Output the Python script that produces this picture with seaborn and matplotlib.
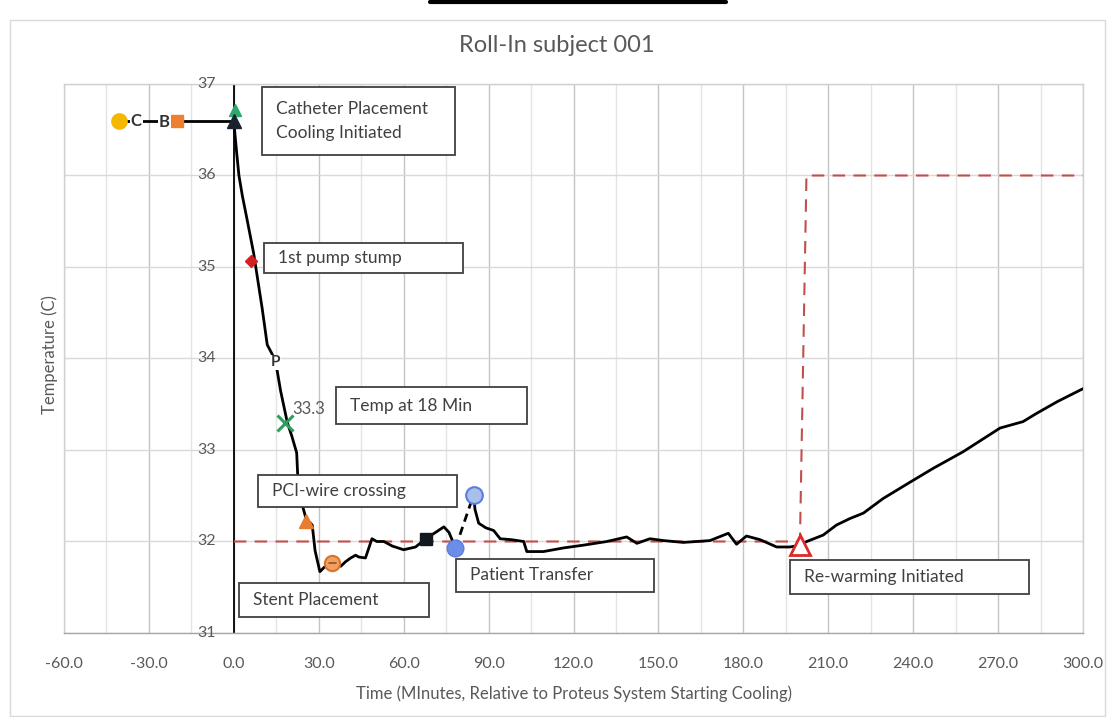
import matplotlib
matplotlib.use("Agg")
import matplotlib.pyplot as plt
import seaborn as sns
from matplotlib.patches import Rectangle
from matplotlib.lines import Line2D

# ---------------- data ----------------
title = "Roll-In subject 001"
x_label = "Time (MInutes, Relative to Proteus System Starting Cooling)"
y_label = "Temperature (C)"
x_ticks = [-60, -30, 0, 30, 60, 90, 120, 150, 180, 210, 240, 270, 300]
y_ticks = [31, 32, 33, 34, 35, 36, 37]

pre_time = [-40.5, -20.0, 0.0]
pre_temp = [36.6, 36.6, 36.6]

cool_time = [0.0, 0.4, 1.0, 1.8, 3.0, 4.8, 7.0, 8.5, 10.0, 11.8, 13.5, 14.8, 16.5, 18.9,
             20.5, 22.2, 22.6, 24.0, 25.5, 27.7, 28.7, 30.4, 32.0, 34.8, 37.8, 39.5,
             41.3, 43.0, 44.2, 46.5, 48.8, 50.5, 53.0, 56.0, 60.0, 64.2, 67.8, 71.3,
             74.2, 76.0, 78.3]
cool_temp = [36.60, 36.45, 36.25, 36.00, 35.78, 35.50, 35.15, 34.85, 34.55, 34.15, 34.05,
             33.96, 33.65, 33.30, 33.15, 32.97, 32.70, 32.42, 32.25, 32.18, 31.90,
             31.67, 31.72, 31.76, 31.73, 31.78, 31.82, 31.85, 31.83, 31.82, 32.03,
             32.00, 32.00, 31.95, 31.91, 31.94, 32.03, 32.10, 32.16, 32.10, 31.93]

transfer_time = [78.3, 84.7]
transfer_temp = [31.93, 32.51]

post_time = [84.7, 85.2, 86.5, 89.0, 91.8, 94.1, 98.0, 102.4, 103.5, 109.4, 116.5,
             123.5, 131.8, 138.8, 142.4, 147.0, 151.8, 158.8, 168.2, 174.7, 177.6,
             181.1, 185.9, 191.8, 196.5, 200.1, 202.4, 208.2, 212.9, 217.6, 222.4,
             229.4, 239.0, 247.1, 257.6, 270.7, 278.8, 283.6, 291.0, 300.0]
post_temp = [32.51, 32.35, 32.20, 32.15, 32.12, 32.03, 32.02, 32.00, 31.89, 31.89,
             31.93, 31.96, 32.00, 32.05, 31.98, 32.03, 32.01, 31.99, 32.01, 32.09,
             31.97, 32.06, 32.02, 31.94, 31.94, 31.96, 32.00, 32.07, 32.18, 32.25,
             32.31, 32.47, 32.65, 32.80, 32.98, 33.24, 33.31, 33.40, 33.53, 33.67]

target_time = [0.0, 200.0, 202.3, 300.0]
target_temp = [32.0, 32.0, 36.0, 36.0]

# event markers
event_names = ["C", "B", "start", "start2", "pump", "P", "t18", "pci", "stent",
               "sq", "transfer_lo", "transfer_hi", "rewarm"]
event_time = [-40.5, -20.0, 0.0, 0.5, 6.0, 14.8, 18.0, 25.4, 34.8, 67.8, 78.3, 84.7, 200.1]
event_temp = [36.6, 36.6, 36.6, 36.72, 35.07, 33.96, 33.30, 32.22, 31.76, 32.03, 31.93, 32.51, 31.96]

temp_18 = "33.3"

boxes = [
    ("Catheter Placement\nCooling Initiated", 9.9, 36.22, 78.0, 36.97),
    ("1st pump stump", 10.6, 34.93, 80.8, 35.26),
    ("Temp at 18 Min", 36.0, 33.28, 103.6, 33.69),
    ("PCI-wire crossing", 8.4, 32.38, 78.7, 32.73),
    ("Stent Placement", 1.9, 31.17, 68.9, 31.55),
    ("Patient Transfer", 78.4, 31.45, 148.6, 31.81),
    ("Re-warming Initiated", 196.6, 31.43, 281.0, 31.80),
]

# ---------------- style ----------------
sns.set_theme(style="white")
plt.rcParams["font.family"] = ["Lato", "DejaVu Sans"]
txt_grey = "#595959"
box_txt = "#404040"

fig = plt.figure(figsize=(11.12, 7.17), dpi=100)
ax = fig.add_axes([64 / 1112, 1 - 633 / 717, (1083 - 64) / 1112, (633 - 84) / 717])

ax.set_xlim(-60, 300)
ax.set_ylim(31, 37)
ax.set_xticks(x_ticks)
ax.set_xticklabels([f"{v:.1f}" for v in x_ticks], color=txt_grey, fontsize=11.5)
ax.set_xticks(list(range(-45, 300, 30)), minor=True)
ax.set_yticks(y_ticks)
ax.set_yticklabels([])
ax.tick_params(axis="both", length=0, pad=17)
ax.grid(True, which="major", axis="x", color="#c4c4c4", lw=1.0)
ax.grid(True, which="minor", axis="x", color="#e4e4e4", lw=1.0)
ax.grid(True, which="major", axis="y", color="#d9d9d9", lw=1.0)
for s in ["top", "left", "right"]:
    ax.spines[s].set_color("#d0d0d0")
    ax.spines[s].set_linewidth(1.0)
ax.spines["bottom"].set_color("#a6a6a6")
ax.spines["bottom"].set_linewidth(1.0)
ax.set_axisbelow(True)

# vertical axis at x=0
ax.plot([0, 0], [31, 37], color="black", lw=1.3, zorder=2)
for v in y_ticks:
    ax.text(-6.5, v, str(v), ha="right", va="center", color=txt_grey, fontsize=11.5, zorder=6)

ax.set_xlabel(x_label, color=txt_grey, fontsize=12, labelpad=11)
fig.text(50 / 1112, 1 - 355 / 717, y_label, rotation=90, ha="center", va="center",
         color=txt_grey, fontsize=12)
fig.text(557 / 1112, 1 - 45 / 717, title, ha="center", va="center", color=txt_grey, fontsize=17)

# target (dashed red)
sns.lineplot(x=target_time, y=target_temp, ax=ax, color="#c0504d", lw=1.5, sort=False,
             estimator=None, linestyle=(0, (6, 4)), zorder=3)

# main curve
sns.lineplot(x=pre_time, y=pre_temp, ax=ax, color="black", lw=2.0, sort=False, estimator=None, zorder=4)
sns.lineplot(x=cool_time, y=cool_temp, ax=ax, color="black", lw=2.0, sort=False, estimator=None, zorder=4)
sns.lineplot(x=transfer_time, y=transfer_temp, ax=ax, color="black", lw=2.0, sort=False,
             estimator=None, linestyle=(0, (3, 2)), zorder=4)
sns.lineplot(x=post_time, y=post_temp, ax=ax, color="black", lw=2.0, sort=False, estimator=None, zorder=4)

ev = dict(zip(event_names, zip(event_time, event_temp)))

def mk(name, **kw):
    t, v = ev[name]
    ax.plot([t], [v], linestyle="none", zorder=7, **kw)

mk("C", marker="o", ms=11, color="#f5b800", mec="#f5b800")
mk("B", marker="s", ms=9, color="#ee7f30", mec="#ee7f30")
mk("start2", marker="^", ms=9, color="#2ea86e", mec="#2ea86e")
mk("start", marker="^", ms=10, color="#1a2230", mec="#1a2230")
mk("pump", marker="D", ms=6, color="#d42020", mec="#d42020")
mk("t18", marker="x", ms=11, mew=2.2, color="#2e9e5e")
mk("pci", marker="^", ms=10, color="#e87d30", mec="#e87d30")
mk("stent", marker="o", ms=11, color="#f0a060", mec="#d9742a", mew=1.5)
mk("sq", marker="s", ms=8, color="#101820", mec="#101820")
mk("transfer_lo", marker="o", ms=12, color="#6d8ee8", mec="#5a7ee0")
mk("transfer_hi", marker="o", ms=12, color="#aac0ec", mec="#5a7ee0", mew=1.5)
mk("rewarm", marker="^", ms=15, color="white", mec="#e02828", mew=2.0)

# stent marker inner dash
t, v = ev["stent"]
ax.plot([t - 1.2, t + 1.2], [v, v], color="#a0501a", lw=1.2, zorder=8)

# point labels
ax.text(ev["C"][0] + 6, 36.6, "C", ha="center", va="center", fontsize=12, fontweight="bold",
        color="#333333", zorder=8, bbox=dict(fc="white", ec="none", pad=0.6))
ax.text(ev["B"][0] - 4.5, 36.58, "B", ha="center", va="center", fontsize=12, fontweight="bold",
        color="#333333", zorder=8, bbox=dict(fc="white", ec="none", pad=0.6))
ax.text(ev["P"][0], ev["P"][1], "P", ha="center", va="center", fontsize=11, fontweight="bold",
        color="#333333", zorder=8, bbox=dict(fc="white", ec="none", pad=0.4))
ax.text(ev["t18"][0] + 2.5, ev["t18"][1] + 0.06, temp_18, ha="left", va="bottom", fontsize=12,
        color=txt_grey, zorder=8)

# annotation boxes
for label, x0, y0, x1, y1 in boxes:
    ax.add_patch(Rectangle((x0, y0), x1 - x0, y1 - y0, fc="white", ec="#404040", lw=1.3, zorder=5))
    ax.text(x0 + 5, (y0 + y1) / 2, label, ha="left", va="center", fontsize=12.5, color=box_txt,
            zorder=6, linespacing=1.6)

# outer chart frame and top artifact bar
fig.add_artist(Rectangle((10 / 1112, 0.002), (1105 - 10) / 1112, 1 - 20 / 717 - 0.002,
                         transform=fig.transFigure, fc="none", ec="#d9d9d9", lw=1.0))
fig.add_artist(Line2D([430 / 1112, 726 / 1112], [1 - 1.5 / 717, 1 - 1.5 / 717],
                      transform=fig.transFigure, color="black", lw=3))

fig.savefig("out.png", dpi=100)
